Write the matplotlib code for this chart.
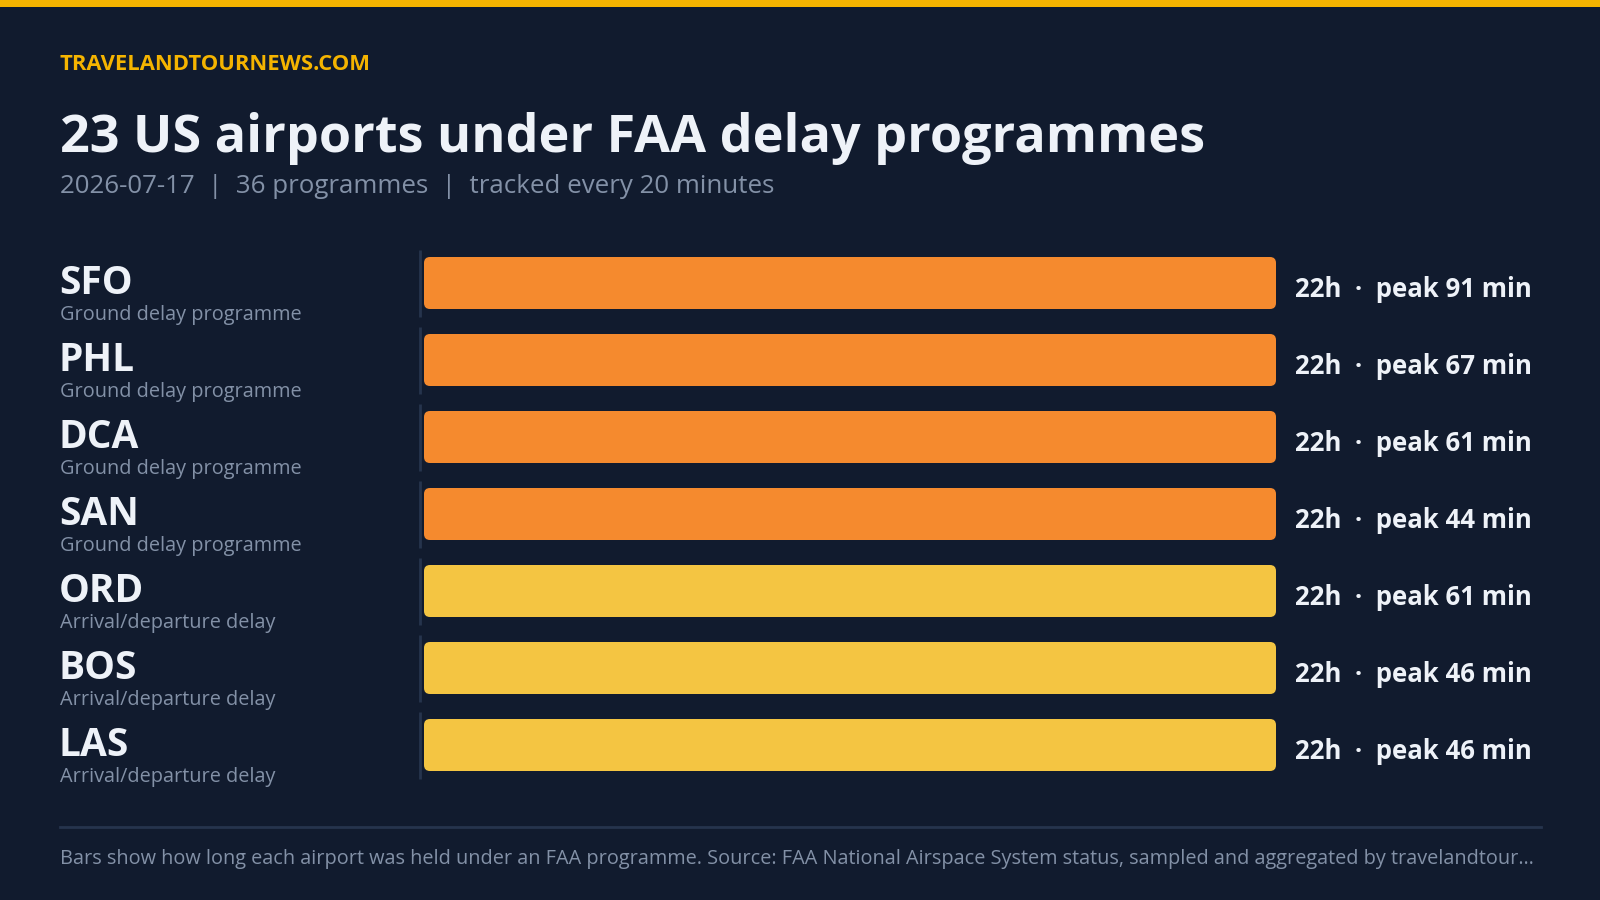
import matplotlib.pyplot as plt
from matplotlib.patches import FancyBboxPatch, Rectangle
from matplotlib.transforms import blended_transform_factory

plt.rcParams["font.family"] = ["Open Sans", "DejaVu Sans"]

# data
airports = ["SFO", "PHL", "DCA", "SAN", "ORD", "BOS", "LAS"]
programme_types = [
    "Ground delay programme",
    "Ground delay programme",
    "Ground delay programme",
    "Ground delay programme",
    "Arrival/departure delay",
    "Arrival/departure delay",
    "Arrival/departure delay",
]
hours_held = [22, 22, 22, 22, 22, 22, 22]
peak_minutes = [91, 67, 61, 44, 61, 46, 46]

brand = "TRAVELANDTOURNEWS.COM"
title = "23 US airports under FAA delay programmes"
subtitle = "2026-07-17  |  36 programmes  |  tracked every 20 minutes"
footer = ("Bars show how long each airport was held under an FAA programme. "
          "Source: FAA National Airspace System status, sampled and aggregated by travelandtour\u2026")

# colours
BG = "#111B2E"
ACCENT = "#F5B400"
WHITE = "#EEF2F8"
GREY = "#8391A7"
RULE = "#26344D"
type_colours = {"Ground delay programme": "#F58A2E",
                "Arrival/departure delay": "#F4C542"}

W, H = 1600, 900
fig = plt.figure(figsize=(16, 9), dpi=100, facecolor=BG)

# top stripe
fig.add_artist(Rectangle((0, 1 - 7 / H), 1, 7 / H, transform=fig.transFigure,
                         facecolor=ACCENT, edgecolor="none"))

def fx(px):
    return px / W

def fy(px):
    return 1 - px / H

fig.text(fx(60), fy(70), brand, color=ACCENT, fontsize=15.8, fontweight="bold", va="baseline")
fig.text(fx(60), fy(152), title, color=WHITE, fontsize=37.5, fontweight="bold", va="baseline")
fig.text(fx(60), fy(193), subtitle, color=GREY, fontsize=18.6, va="baseline")

# bar area
row_h = 77
first_center = 283
n = len(airports)
ax_left, bar_left, bar_right = 418, 424, 1276
ax_top = first_center - row_h / 2
ax_bottom = ax_top + n * row_h
ax = fig.add_axes([fx(ax_left), fy(ax_bottom), fx(bar_right - ax_left), (ax_bottom - ax_top) / H])
ax.set_facecolor(BG)
ax.axis("off")
xmax = max(hours_held)
units_per_px = xmax / (bar_right - bar_left)
ax.set_xlim(-(bar_left - ax_left) * units_per_px, xmax)
ax.set_ylim(n - 0.5, -0.5)

bar_h = 52 / row_h
aspect = (1 / row_h) / units_per_px
radius = 6 * units_per_px
for i, (hrs, kind) in enumerate(zip(hours_held, programme_types)):
    ax.add_patch(FancyBboxPatch((0, i - bar_h / 2), hrs, bar_h,
                                boxstyle=f"round,pad=0,rounding_size={radius}",
                                mutation_aspect=aspect,
                                facecolor=type_colours[kind], edgecolor="none"))

# thin separator left of each bar
sep_x = -(bar_left - 420) * units_per_px
for i in range(n):
    ax.plot([sep_x, sep_x], [i - 33 / row_h, i + 34 / row_h], color=RULE, lw=2,
            solid_capstyle="butt", clip_on=False)

# labels
lbl = blended_transform_factory(fig.transFigure, ax.transData)
for i, (code, kind) in enumerate(zip(airports, programme_types)):
    ax.text(fx(59), i + 11 / row_h, code, transform=lbl, color=WHITE, fontsize=28,
            fontweight="bold", va="baseline", ha="left")
    ax.text(fx(60), i + 37 / row_h, kind, transform=lbl, color=GREY, fontsize=14.3,
            va="baseline", ha="left")

for i, (hrs, pk) in enumerate(zip(hours_held, peak_minutes)):
    ax.text(hrs + 19 * units_per_px, i + 14 / row_h, f"{hrs}h  \u00b7  peak {pk} min",
            color=WHITE, fontsize=18.5, fontweight="bold", va="baseline", ha="left",
            clip_on=False)

# footer
fig.add_artist(plt.Line2D([fx(60), fx(1541)], [fy(827), fy(827)], color=RULE, lw=2))
fig.text(fx(60), fy(864), footer, color=GREY, fontsize=14.3, va="baseline")

fig.savefig("out.png", dpi=100, facecolor=BG)
